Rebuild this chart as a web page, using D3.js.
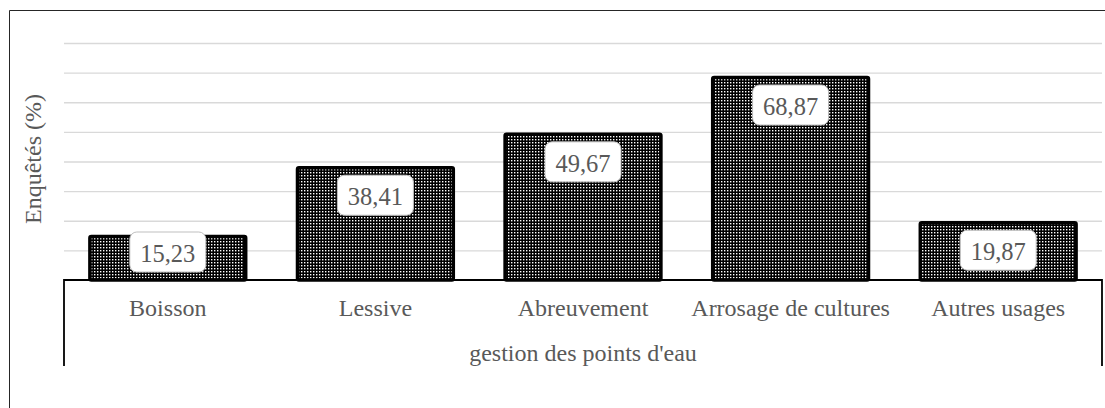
<!DOCTYPE html>
<html>
<head>
<meta charset="utf-8">
<script src="https://cdn.jsdelivr.net/npm/d3@7"></script>
<style>
  body { margin: 0; background: #fff; }
  text { font-family: "Liberation Serif", "Times New Roman", serif; fill: #595959; }
</style>
</head>
<body>
<div id="chart"></div>
<script>
// data
const categories = ["Boisson", "Lessive", "Abreuvement", "Arrosage de cultures", "Autres usages"];
const values = [15.23, 38.41, 49.67, 68.87, 19.87];
const labels = ["15,23", "38,41", "49,67", "68,87", "19,87"];
const gridTicks = [0, 10, 20, 30, 40, 50, 60, 70, 80];

const width = 1105, height = 408;
const margin = {top: 43, right: 3, bottom: 128, left: 64};

const svg = d3.select("#chart").append("svg")
  .attr("width", width)
  .attr("height", height);

// pattern for the dotted bars
const defs = svg.append("defs");
const pat = defs.append("pattern")
  .attr("id", "dots")
  .attr("patternUnits", "userSpaceOnUse")
  .attr("width", 3).attr("height", 3);
pat.append("rect").attr("width", 3).attr("height", 3).attr("fill", "#000");
pat.append("rect").attr("x", 1).attr("y", 1).attr("width", 1.4).attr("height", 1.4).attr("fill", "#fff");

// outer chart border (only top and left are in view)
svg.append("path")
  .attr("d", `M9.5,${height} V10.5 H${width}`)
  .attr("fill", "none")
  .attr("stroke", "#262626")
  .attr("stroke-width", 1);

const x = d3.scaleBand()
  .domain(categories)
  .range([margin.left, width - margin.right])
  .paddingInner(0.235)
  .paddingOuter(0.1175);

const y = d3.scaleLinear()
  .domain([0, 80])
  .range([280, margin.top]);

const base = y(0);

// gridlines
svg.append("g")
  .attr("transform", `translate(${margin.left},0)`)
  .call(d3.axisLeft(y).tickValues(gridTicks.slice(1)).tickSize(-(width - margin.right - margin.left)).tickFormat(""))
  .call(g => g.select(".domain").remove())
  .call(g => g.selectAll("line").attr("stroke", "#d9d9d9").attr("stroke-width", 1.3));

// bars
svg.selectAll(".bar")
  .data(values)
  .join("rect")
  .attr("class", "bar")
  .attr("x", (d, i) => x(categories[i]) + 1.5)
  .attr("y", d => y(d) + 1.5)
  .attr("width", x.bandwidth() - 3)
  .attr("height", d => base - y(d) - 1.5)
  .attr("rx", 1.5)
  .attr("fill", "url(#dots)")
  .attr("stroke", "#000")
  .attr("stroke-width", 3.5);

// category axis box
const xl = margin.left, xr = width - margin.right;
svg.append("path")
  .attr("d", `M${xl},366 V${base} H${xr} V366`)
  .attr("fill", "none")
  .attr("stroke", "#000")
  .attr("stroke-width", 1.8);

// data labels
const lab = svg.selectAll(".lab")
  .data(values)
  .join("g")
  .attr("class", "lab")
  .attr("transform", (d, i) => {
    const cy = Math.min(y(d) + 29, base - 28);
    return `translate(${x(categories[i]) + x.bandwidth() / 2},${cy})`;
  });
lab.append("rect")
  .attr("x", -38).attr("y", -20)
  .attr("width", 76).attr("height", 40)
  .attr("rx", 7)
  .attr("fill", "#fff")
  .attr("stroke", "#bfbfbf")
  .attr("stroke-width", 1);
lab.append("text")
  .attr("text-anchor", "middle")
  .attr("y", 10)
  .style("font-size", "24.5px")
  .text((d, i) => labels[i]);

// category labels
svg.selectAll(".cat")
  .data(categories)
  .join("text")
  .attr("class", "cat")
  .attr("x", d => x(d) + x.bandwidth() / 2)
  .attr("y", 316)
  .attr("text-anchor", "middle")
  .style("font-size", "24px")
  .text(d => d);

// axis titles
svg.append("text")
  .attr("x", (xl + xr) / 2)
  .attr("y", 361)
  .attr("text-anchor", "middle")
  .style("font-size", "24px")
  .text("gestion des points d'eau");

svg.append("text")
  .attr("transform", `translate(41,159) rotate(-90)`)
  .attr("text-anchor", "middle")
  .style("font-size", "24px")
  .text("Enquêtés (%)");
</script>
</body>
</html>
